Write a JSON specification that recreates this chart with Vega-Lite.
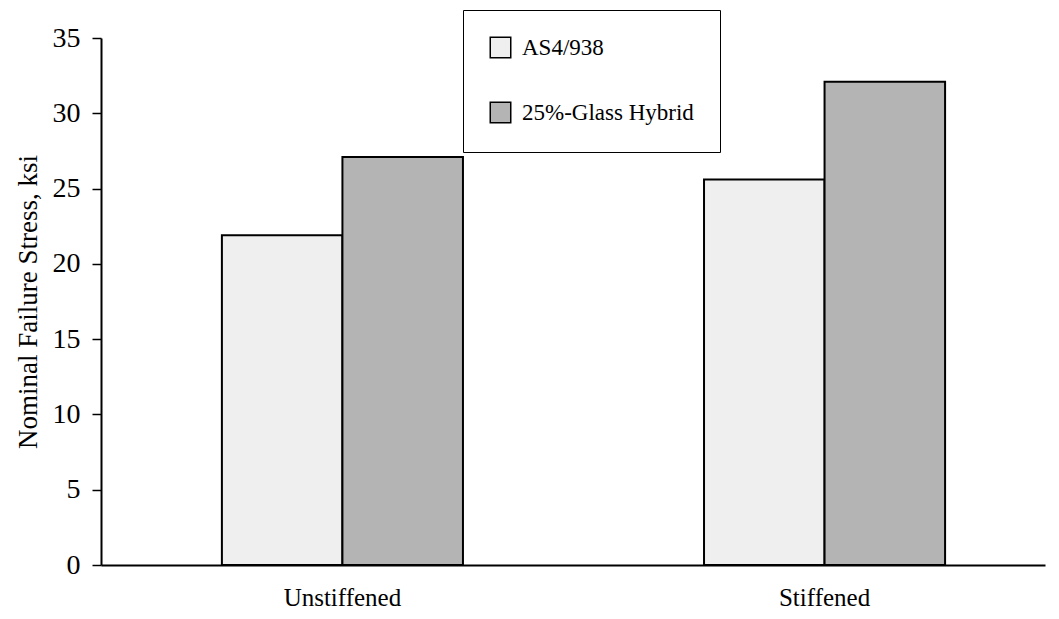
{
  "$schema": "https://vega.github.io/schema/vega-lite/v6.json",
  "autosize": {"type": "none"},
  "padding": {"left": 101, "top": 38, "right": 14, "bottom": 54},
  "width": 944,
  "height": 527,
  "background": "white",
  "config": {
    "font": "Liberation Serif",
    "view": {"stroke": null}
  },
  "data": {
    "values": [
      {"config": "Unstiffened", "material": "AS4/938", "stress": 21.9},
      {"config": "Unstiffened", "material": "25%-Glass Hybrid", "stress": 27.1},
      {"config": "Stiffened", "material": "AS4/938", "stress": 25.6},
      {"config": "Stiffened", "material": "25%-Glass Hybrid", "stress": 32.1}
    ]
  },
  "mark": {"type": "bar", "stroke": "black", "strokeWidth": 2},
  "encoding": {
    "x": {
      "field": "config",
      "type": "nominal",
      "sort": ["Unstiffened", "Stiffened"],
      "scale": {"paddingInner": 0.5, "paddingOuter": 0.229, "align": 0.5475},
      "axis": {
        "title": null,
        "labelAngle": 0,
        "labelFontSize": 25,
        "labelColor": "black",
        "labelPadding": 20,
        "ticks": false,
        "domainColor": "black",
        "domainWidth": 2,
        "grid": false
      }
    },
    "xOffset": {
      "field": "material",
      "type": "nominal",
      "sort": ["AS4/938", "25%-Glass Hybrid"],
      "scale": {"paddingInner": 0, "paddingOuter": 0}
    },
    "y": {
      "field": "stress",
      "type": "quantitative",
      "scale": {"domain": [0, 35], "nice": false},
      "axis": {
        "title": "Nominal Failure Stress, ksi",
        "titleFontSize": 27,
        "titleFontWeight": "normal",
        "titleColor": "black",
        "titlePadding": 10,
        "values": [0, 5, 10, 15, 20, 25, 30, 35],
        "labelFontSize": 28,
        "labelColor": "black",
        "labelPadding": 12,
        "tickSize": 9,
        "tickColor": "black",
        "tickWidth": 1.5,
        "domainColor": "black",
        "domainWidth": 2,
        "grid": false
      }
    },
    "fill": {
      "field": "material",
      "type": "nominal",
      "sort": ["AS4/938", "25%-Glass Hybrid"],
      "scale": {"domain": ["AS4/938", "25%-Glass Hybrid"], "range": ["#efefef", "#b4b4b4"]},
      "legend": {
        "title": null,
        "orient": "none",
        "legendX": 362,
        "legendY": -28,
        "direction": "vertical",
        "strokeColor": "black",
        "padding": 26,
        "rowPadding": 38,
        "symbolType": "square",
        "symbolSize": 420,
        "symbolStrokeColor": "black",
        "symbolStrokeWidth": 1.5,
        "labelFontSize": 23,
        "labelLimit": 0,
        "labelColor": "black",
        "labelOffset": 10,
        "fillColor": "white"
      }
    }
  }
}
